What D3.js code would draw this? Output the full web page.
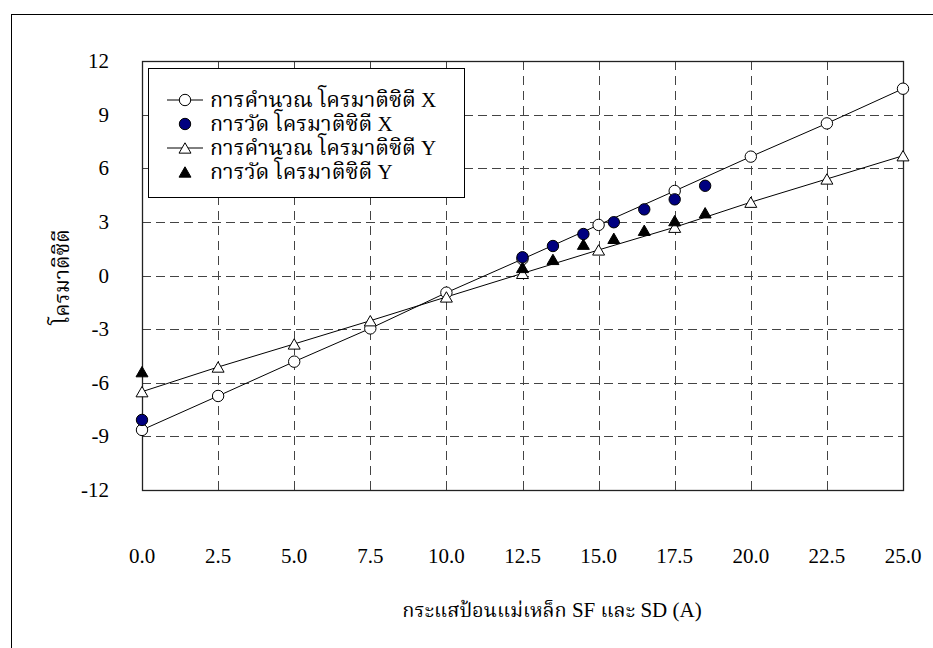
<!DOCTYPE html>
<html lang="th">
  <head>
    <meta charset="UTF-8" />
    <title>Chromaticity vs magnet current</title>
    <script src="https://cdn.jsdelivr.net/npm/d3@7"></script>
    <style>
      body { margin: 0; background: #fff; }
      text { font-family: "Liberation Serif", "Noto Serif Thai", "Times New Roman", serif; fill: #000; }
      tspan.lat { font-family: "Liberation Serif", "Times New Roman", serif; }
    </style>
  </head>
  <body>
    <svg id="chart" width="933" height="648"></svg>
    <script>
      // x values (A)
      const calcX = [0, 2.5, 5, 7.5, 10, 12.5, 15, 17.5, 20, 22.5, 25];
      const measX = [0, 12.5, 13.5, 14.5, 15.5, 16.5, 17.5, 18.5];

      // calculated chromaticity
      const calcChromX = [-8.64, -6.74, -4.82, -2.96, -0.96, 0.92, 2.83, 4.73, 6.65, 8.51, 10.45];
      const calcChromY = [-6.5, -5.12, -3.83, -2.53, -1.2, 0.12, 1.43, 2.7, 4.1, 5.4, 6.7];

      // measured chromaticity
      const measChromX = [-8.08, 1.02, 1.65, 2.32, 2.98, 3.7, 4.26, 5.02];
      const measChromY = [-5.38, 0.45, 0.9, 1.75, 2.08, 2.53, 3.07, 3.51];

      const xTicks = [0, 2.5, 5, 7.5, 10, 12.5, 15, 17.5, 20, 22.5, 25];
      const yTicks = [12, 9, 6, 3, 0, -3, -6, -9, -12];

      const legendThai = [
        "การคำนวณ โครมาติซิตี",
        "การวัด โครมาติซิตี",
        "การคำนวณ โครมาติซิตี",
        "การวัด โครมาติซิตี"
      ];
      const legendAxis = ["X", "X", "Y", "Y"];

      const svg = d3.select("#chart");
      const pLeft = 142, pRight = 903, pTop = 61, pBottom = 490;

      const x = d3.scaleLinear().domain([0, 25]).range([pLeft, pRight]);
      const y = d3.scaleLinear().domain([-12, 12]).range([pBottom, pTop]);

      // chart area border
      svg.append("rect")
        .attr("x", 11.5).attr("y", 14.5)
        .attr("width", 940).attr("height", 660)
        .attr("fill", "none").attr("stroke", "#000").attr("stroke-width", 1);

      // grid
      const grid = svg.append("g");
      grid.selectAll("line.h")
        .data(yTicks.filter(d => d !== 12 && d !== -12))
        .join("line")
        .attr("class", "h")
        .attr("x1", pLeft).attr("x2", pRight)
        .attr("y1", d => Math.round(y(d)) + 0.5).attr("y2", d => Math.round(y(d)) + 0.5)
        .attr("stroke", "#444").attr("stroke-dasharray", "9,5");
      grid.selectAll("line.v")
        .data(xTicks.filter(d => d !== 0 && d !== 25))
        .join("line")
        .attr("class", "v")
        .attr("y1", pTop).attr("y2", pBottom)
        .attr("x1", d => Math.round(x(d)) + 0.5).attr("x2", d => Math.round(x(d)) + 0.5)
        .attr("stroke", "#444").attr("stroke-dasharray", "9,6");

      // plot frame
      svg.append("rect")
        .attr("x", pLeft + 0.5).attr("y", pTop + 0.5)
        .attr("width", pRight - pLeft).attr("height", pBottom - pTop)
        .attr("fill", "none").attr("stroke", "#222").attr("stroke-width", 1.3);

      // axes labels
      svg.append("g").selectAll("text")
        .data(yTicks)
        .join("text")
        .attr("x", 109)
        .attr("y", d => y(d) + 7)
        .attr("text-anchor", "end")
        .attr("font-size", 21)
        .text(d => d);

      svg.append("g").selectAll("text")
        .data(xTicks)
        .join("text")
        .attr("x", d => x(d))
        .attr("y", 563)
        .attr("text-anchor", "middle")
        .attr("font-size", 21)
        .text(d => d3.format(".1f")(d));

      const xTitle = svg.append("text")
        .attr("x", 552).attr("y", 617)
        .attr("text-anchor", "middle")
        .attr("font-size", 20);
      xTitle.append("tspan").text("กระแสป้อนแม่เหล็ก");
      xTitle.append("tspan").attr("class", "lat").attr("font-size", 21).text(" SF ");
      xTitle.append("tspan").text("และ");
      xTitle.append("tspan").attr("class", "lat").attr("font-size", 21).text(" SD (A)");

      svg.append("text")
        .attr("transform", "translate(69,277) rotate(-90)")
        .attr("text-anchor", "middle")
        .attr("font-size", 21)
        .text("โครมาติซิตี");

      // lines for calculated series
      const line = d3.line().x(d => x(d[0])).y(d => y(d[1]));
      const lines = svg.append("g").attr("fill", "none").attr("stroke", "#000").attr("stroke-width", 1);
      lines.append("path").attr("d", line(d3.zip(calcX, calcChromX)));
      lines.append("path").attr("d", line(d3.zip(calcX, calcChromY)));

      const tri = d3.symbol().type(d3.symbolTriangle).size(62);
      const triOff = 1.7;

      function circles(xs, ys, fill) {
        svg.append("g").selectAll("circle")
          .data(d3.zip(xs, ys))
          .join("circle")
          .attr("cx", d => x(d[0])).attr("cy", d => y(d[1]))
          .attr("r", 5.7)
          .attr("fill", fill).attr("stroke", "#000").attr("stroke-width", 1);
      }
      function triangles(xs, ys, fill) {
        svg.append("g").selectAll("path")
          .data(d3.zip(xs, ys))
          .join("path")
          .attr("d", tri)
          .attr("transform", d => `translate(${x(d[0])},${y(d[1]) + triOff})`)
          .attr("fill", fill).attr("stroke", "#000").attr("stroke-width", 1);
      }

      circles(calcX, calcChromX, "#fff");
      triangles(calcX, calcChromY, "#fff");
      triangles(measX, measChromY, "#000");
      circles(measX, measChromX, "#000080");

      // legend
      const lg = svg.append("g");
      lg.append("rect")
        .attr("x", 148.5).attr("y", 68.5).attr("width", 316).attr("height", 129)
        .attr("fill", "#fff").attr("stroke", "#000").attr("stroke-width", 1);
      const rowsY = [100, 124, 148, 172];
      const styles = [
        { shape: "circle", fill: "#fff", line: true },
        { shape: "circle", fill: "#000080", line: false },
        { shape: "tri", fill: "#fff", line: true },
        { shape: "tri", fill: "#000", line: false }
      ];
      legendThai.forEach((lab, i) => {
        const cy = rowsY[i];
        const s = styles[i];
        if (s.line) {
          lg.append("line").attr("x1", 167).attr("x2", 203)
            .attr("y1", cy).attr("y2", cy).attr("stroke", "#000");
        }
        if (s.shape === "circle") {
          lg.append("circle").attr("cx", 185).attr("cy", cy).attr("r", 5.7)
            .attr("fill", s.fill).attr("stroke", "#000");
        } else {
          lg.append("path").attr("d", tri)
            .attr("transform", `translate(185,${cy + triOff})`)
            .attr("fill", s.fill).attr("stroke", "#000");
        }
        const t = lg.append("text").attr("x", 210).attr("y", cy + 7)
          .attr("font-size", 21.5);
        t.append("tspan").text(lab);
        t.append("tspan").attr("class", "lat").attr("font-size", 21).text(" " + legendAxis[i]);
      });
    </script>
  </body>
</html>
